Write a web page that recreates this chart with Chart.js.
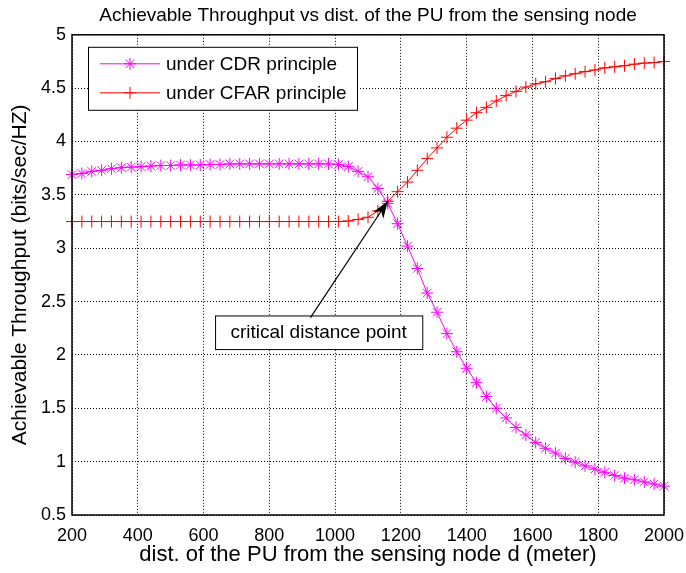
<!DOCTYPE html>
<html>
<head>
<meta charset="utf-8">
<script src="https://cdn.jsdelivr.net/npm/chart.js@4.4.0/dist/chart.umd.min.js"></script>
<style>
  html, body { margin: 0; padding: 0; background: #fff; }
</style>
</head>
<body>
<canvas id="thr" width="686" height="573"></canvas>
<script>
// distance of the PU from the sensing node (meter)
const dist = [200, 230, 260, 290, 320, 350, 380, 410, 440, 470,
  500, 530, 560, 590, 620, 650, 680, 710, 740, 770,
  800, 830, 860, 890, 920, 950, 980, 1010, 1040, 1070,
  1100, 1130, 1160, 1190, 1220, 1250, 1280, 1310, 1340, 1370,
  1400, 1430, 1460, 1490, 1520, 1550, 1580, 1610, 1640, 1670,
  1700, 1730, 1760, 1790, 1820, 1850, 1880, 1910, 1940, 1970, 2000];

// under CDR principle
const cdr = [3.69, 3.70, 3.72, 3.73, 3.745, 3.755, 3.76, 3.765, 3.77, 3.775,
  3.775, 3.78, 3.78, 3.78, 3.785, 3.785, 3.79, 3.79, 3.79, 3.79,
  3.79, 3.79, 3.79, 3.79, 3.79, 3.79, 3.79, 3.785, 3.765, 3.72,
  3.67, 3.56, 3.42, 3.23, 3.02, 2.81, 2.58, 2.40, 2.20, 2.03,
  1.875, 1.74, 1.61, 1.50, 1.41, 1.32, 1.25, 1.18, 1.125, 1.08,
  1.03, 0.995, 0.96, 0.93, 0.90, 0.87, 0.845, 0.83, 0.81, 0.79, 0.77];

// under CFAR principle
const cfar = [3.25, 3.25, 3.25, 3.25, 3.25, 3.25, 3.25, 3.25, 3.25, 3.25,
  3.25, 3.25, 3.25, 3.25, 3.25, 3.25, 3.25, 3.25, 3.25, 3.25,
  3.25, 3.25, 3.25, 3.25, 3.25, 3.25, 3.25, 3.25, 3.255, 3.27,
  3.29, 3.35, 3.44, 3.53, 3.62, 3.73, 3.84, 3.94, 4.04, 4.125,
  4.20, 4.27, 4.32, 4.38, 4.43, 4.47, 4.51, 4.54, 4.56, 4.59,
  4.615, 4.635, 4.655, 4.67, 4.69, 4.70, 4.71, 4.725, 4.735, 4.74, 4.75];

const xTicks = [200, 400, 600, 800, 1000, 1200, 1400, 1600, 1800, 2000];
const yTicks = [0.5, 1, 1.5, 2, 2.5, 3, 3.5, 4, 4.5, 5];

const FONT = "'Liberation Sans', Arial, Helvetica, sans-serif";

// annotation: arrow from text box to the crossing point
const note = {
  text: 'critical distance point',
  tip: { x: 1160, y: 3.44 },
  tail: { x: 925, y: 2.35 },
  box: { x0: 635, x1: 1265, y0: 2.37, y1: 2.055 }
};

function toXY(ys) {
  return ys.map((v, i) => ({ x: dist[i], y: v }));
}

function drawMarker(ctx, style, x, y, r) {
  ctx.beginPath();
  ctx.moveTo(x - r, y); ctx.lineTo(x + r, y);
  ctx.moveTo(x, y - r); ctx.lineTo(x, y + r);
  if (style === 'star') {
    const d = r * 0.7071;
    ctx.moveTo(x - d, y - d); ctx.lineTo(x + d, y + d);
    ctx.moveTo(x - d, y + d); ctx.lineTo(x + d, y - d);
  }
  ctx.stroke();
}

const extras = {
  id: 'extras',
  afterDraw(chart) {
    const ctx = chart.ctx;
    const a = chart.chartArea;
    const xs = chart.scales.x, ys = chart.scales.y;
    ctx.save();

    // frame
    ctx.strokeStyle = '#000';
    ctx.lineWidth = 1.5;
    ctx.strokeRect(a.left, a.top, a.right - a.left, a.bottom - a.top);

    // legend box
    const lx = a.left + 16, ly = a.top + 12, lw = 269, lh = 63;
    ctx.fillStyle = '#fff';
    ctx.fillRect(lx, ly, lw, lh);
    ctx.lineWidth = 1;
    ctx.strokeRect(lx + 0.5, ly + 0.5, lw, lh);
    const items = chart.data.datasets;
    ctx.font = '19px ' + FONT;
    ctx.textBaseline = 'middle';
    items.forEach((ds, i) => {
      const yy = ly + 17 + i * 29;
      ctx.strokeStyle = ds.borderColor;
      ctx.lineWidth = 1;
      ctx.beginPath();
      ctx.moveTo(lx + 12, yy); ctx.lineTo(lx + 72, yy);
      ctx.stroke();
      drawMarker(ctx, ds.pointStyle, lx + 42, yy, 6);
      ctx.fillStyle = '#000';
      ctx.textAlign = 'left';
      ctx.fillText(ds.label, lx + 78, yy + 1);
    });

    // annotation box
    const bx0 = xs.getPixelForValue(note.box.x0), bx1 = xs.getPixelForValue(note.box.x1);
    const by0 = ys.getPixelForValue(note.box.y0), by1 = ys.getPixelForValue(note.box.y1);
    ctx.fillStyle = '#fff';
    ctx.fillRect(bx0, by0, bx1 - bx0, by1 - by0);
    ctx.strokeStyle = '#000';
    ctx.lineWidth = 1;
    ctx.strokeRect(bx0 + 0.5, by0 + 0.5, bx1 - bx0, by1 - by0);
    ctx.fillStyle = '#000';
    ctx.font = '19px ' + FONT;
    ctx.textAlign = 'center';
    ctx.fillText(note.text, (bx0 + bx1) / 2, (by0 + by1) / 2 + 1);

    // arrow
    const tx = xs.getPixelForValue(note.tip.x), ty = ys.getPixelForValue(note.tip.y);
    const sx = xs.getPixelForValue(note.tail.x), sy = ys.getPixelForValue(note.tail.y);
    const ang = Math.atan2(ty - sy, tx - sx);
    ctx.beginPath();
    ctx.moveTo(sx, sy); ctx.lineTo(tx, ty);
    ctx.lineWidth = 1.2;
    ctx.stroke();
    const L = 17, W = 6;
    ctx.translate(tx, ty);
    ctx.rotate(ang);
    ctx.beginPath();
    ctx.moveTo(0, 0);
    ctx.lineTo(-L, -W);
    ctx.lineTo(-L * 0.7, 0);
    ctx.lineTo(-L, W);
    ctx.closePath();
    ctx.fill();
    ctx.restore();
  }
};

new Chart(document.getElementById('thr'), {
  type: 'line',
  data: {
    datasets: [{
      label: 'under CDR principle',
      data: toXY(cdr),
      borderColor: '#ff00ff',
      backgroundColor: '#ff00ff',
      borderWidth: 1,
      pointStyle: 'star',
      pointRadius: 6,
      pointBorderWidth: 1,
      fill: false,
      clip: false,
      order: 1
    }, {
      label: 'under CFAR principle',
      data: toXY(cfar),
      borderColor: '#ff0000',
      backgroundColor: '#ff0000',
      borderWidth: 1,
      pointStyle: 'cross',
      pointRadius: 6,
      pointBorderWidth: 1,
      fill: false,
      clip: false,
      order: 0
    }]
  },
  options: {
    responsive: false,
    animation: false,
    devicePixelRatio: 1,
    layout: { autoPadding: false, padding: { left: 0, right: 22, top: 0, bottom: 0 } },
    plugins: {
      legend: { display: false },
      tooltip: { enabled: false },
      title: {
        display: true,
        fullSize: false,
        text: 'Achievable Throughput vs dist. of the PU from the sensing node',
        color: '#000',
        font: { family: FONT, size: 19, weight: 'normal' },
        padding: { top: 4, bottom: 8 }
      }
    },
    scales: {
      x: {
        type: 'linear',
        min: 200, max: 2000,
        afterBuildTicks: (s) => { s.ticks = xTicks.map(v => ({ value: v })); },
        afterFit: (s) => { s.height = 58; s.paddingLeft = 0; s.paddingRight = 0; },
        ticks: {
          color: '#000',
          font: { family: FONT, size: 18 },
          padding: 10,
          maxRotation: 0,
          callback: (v) => String(v)
        },
        grid: { color: '#000', lineWidth: 1, drawTicks: false },
        border: { display: false, dash: [1, 2] },
        title: {
          display: true,
          text: 'dist. of the PU from the sensing node d (meter)',
          color: '#000',
          font: { family: FONT, size: 22 },
          padding: { top: 0, bottom: 5 }
        }
      },
      y: {
        type: 'linear',
        min: 0.5, max: 5,
        afterBuildTicks: (s) => { s.ticks = yTicks.map(v => ({ value: v })); },
        afterFit: (s) => { s.width = 72; },
        ticks: {
          color: '#000',
          font: { family: FONT, size: 18 },
          padding: 6,
          callback: (v) => String(v)
        },
        grid: { color: '#000', lineWidth: 1, drawTicks: false },
        border: { display: false, dash: [1, 2] },
        title: {
          display: true,
          text: 'Achievable Throughput (bits/sec/HZ)',
          color: '#000',
          font: { family: FONT, size: 21 },
          padding: { top: 8, bottom: 0 }
        }
      }
    }
  },
  plugins: [extras]
});
</script>
</body>
</html>
